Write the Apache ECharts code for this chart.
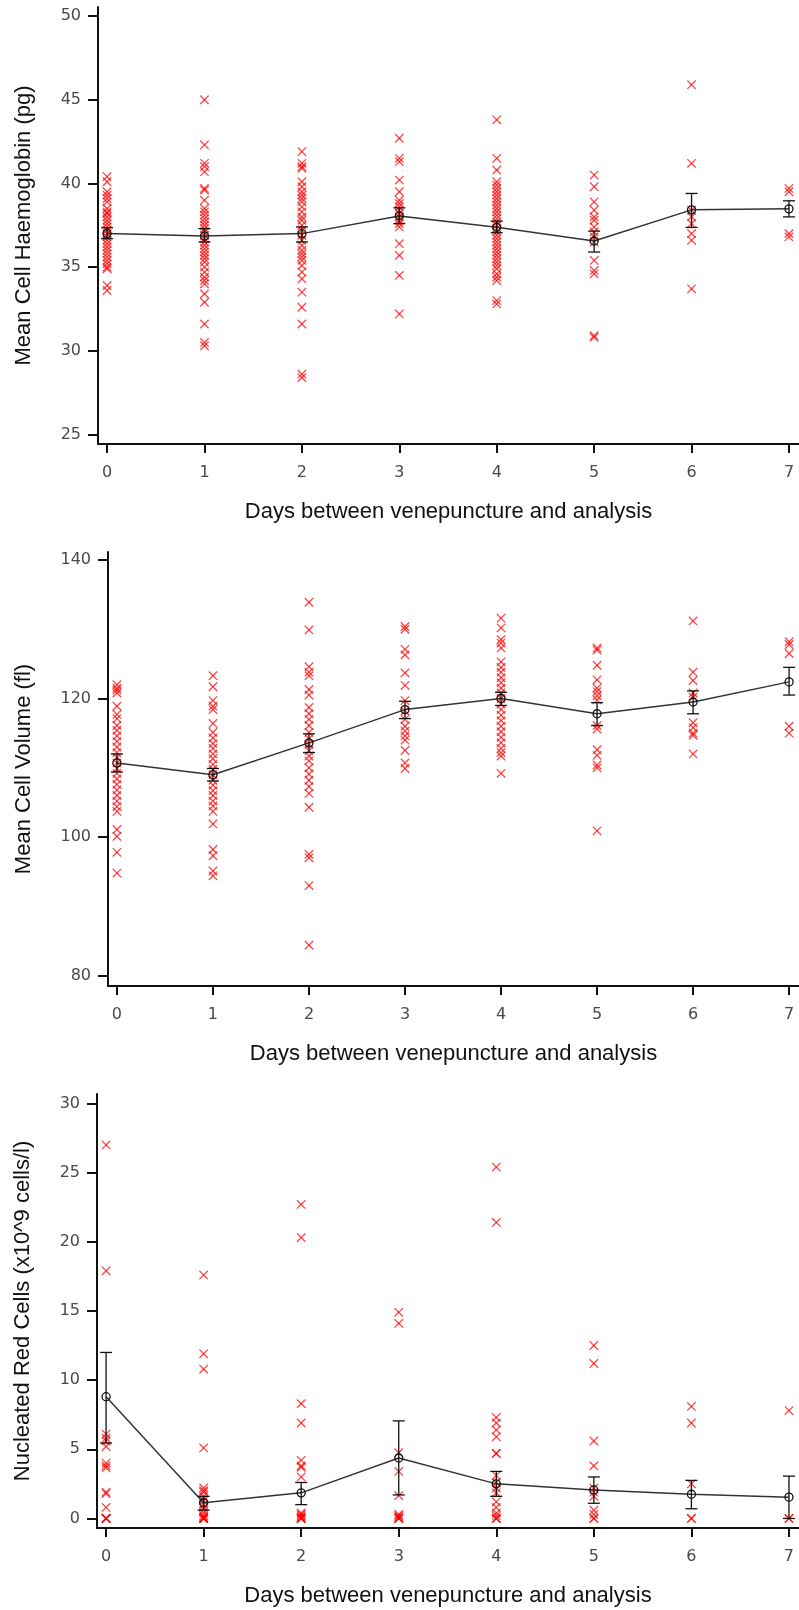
<!DOCTYPE html>
<html>
<head>
<meta charset="utf-8">
<script src="https://cdn.jsdelivr.net/npm/echarts@6/dist/echarts.min.js"></script>
<style>
html,body{margin:0;padding:0;background:#fff;}
#chart{width:799px;height:1610px;}
</style>
</head>
<body>
<div id="chart"></div>
<script>
// ---- Data ----
const days = [0, 1, 2, 3, 4, 5, 6, 7];
const dayTicks = [0, 1, 2, 3, 4, 5, 6, 7];
const xTitle = 'Days between venepuncture and analysis';

// Panel 1: Mean Cell Haemoglobin (pg)
const mchTitle = 'Mean Cell Haemoglobin (pg)';
const mchTicks = [25, 30, 35, 40, 45, 50];
const mchPoints = [
  [40.4, 40.1, 39.5, 39.3, 39.1, 38.9, 38.5, 38.3, 38.2, 38.0, 37.8, 37.6, 37.4, 37.2, 37.0, 36.8, 36.6, 36.4, 36.2, 36.0, 35.8, 35.6, 35.4, 35.2, 35.0, 34.9, 33.9, 33.6],
  [45.0, 42.3, 41.2, 41.0, 40.7, 39.7, 39.6, 39.0, 38.5, 38.3, 38.1, 37.9, 37.7, 37.5, 37.3, 37.1, 36.9, 36.7, 36.5, 36.3, 36.1, 35.9, 35.7, 35.5, 35.3, 35.0, 34.7, 34.4, 34.2, 34.0, 33.4, 32.9, 31.6, 30.5, 30.3],
  [41.9, 41.2, 41.0, 40.9, 40.1, 39.8, 39.5, 39.3, 39.1, 38.9, 38.6, 38.3, 38.0, 37.8, 37.5, 37.2, 36.9, 36.6, 36.3, 36.0, 35.8, 35.6, 35.4, 35.1, 34.7, 34.3, 33.5, 32.6, 31.6, 28.6, 28.4],
  [42.7, 41.5, 41.3, 40.2, 39.5, 39.0, 38.8, 38.6, 38.4, 38.2, 38.0, 37.8, 37.6, 37.4, 36.4, 35.7, 34.5, 32.2],
  [43.8, 41.5, 40.8, 40.1, 39.9, 39.7, 39.5, 39.3, 39.1, 38.9, 38.7, 38.5, 38.3, 38.1, 37.9, 37.7, 37.5, 37.3, 37.1, 36.9, 36.7, 36.5, 36.3, 36.1, 35.9, 35.7, 35.5, 35.3, 35.1, 34.9, 34.6, 34.4, 34.2, 33.0, 32.8],
  [40.5, 39.8, 38.9, 38.4, 38.0, 37.8, 37.4, 37.1, 36.8, 36.5, 35.4, 34.8, 34.6, 30.9, 30.8],
  [45.9, 41.2, 38.4, 38.0, 37.6, 37.0, 36.6, 33.7],
  [39.7, 39.5, 37.0, 36.8]
];
const mchMean = [37.0, 36.86, 37.0, 38.05, 37.38, 36.56, 38.42, 38.48];
const mchLow  = [36.7, 36.5, 36.5, 37.6, 37.05, 35.9, 37.37, 38.0];
const mchHigh = [37.35, 37.3, 37.4, 38.54, 37.75, 37.15, 39.4, 38.96];

// Panel 2: Mean Cell Volume (fl)
const mcvTitle = 'Mean Cell Volume (fl)';
const mcvTicks = [80, 100, 120, 140];
const mcvPoints = [
  [122.0, 121.5, 121.2, 120.8, 118.9, 117.7, 117.1, 116.1, 115.4, 114.6, 113.8, 113.0, 112.2, 111.5, 110.7, 109.9, 109.2, 108.4, 107.6, 106.8, 106.0, 105.2, 104.4, 103.7, 101.1, 100.1, 97.8, 94.8],
  [123.3, 121.7, 119.7, 118.9, 118.4, 116.4, 115.1, 114.3, 113.5, 112.8, 112.0, 111.3, 110.5, 109.8, 109.0, 108.2, 107.5, 106.7, 106.0, 105.2, 104.5, 103.7, 101.9, 98.2, 97.3, 95.1, 94.4],
  [133.9, 129.9, 124.6, 123.8, 123.3, 121.3, 120.5, 118.7, 117.8, 117.0, 116.1, 115.1, 114.2, 113.4, 112.5, 111.7, 111.0, 110.0, 109.1, 108.2, 107.3, 106.3, 104.3, 97.5, 97.0, 93.0, 84.4],
  [130.4, 130.0, 127.1, 126.3, 123.7, 121.9, 119.7, 118.2, 117.0, 116.0, 115.3, 114.6, 114.0, 112.5, 110.7, 109.9],
  [131.6, 130.2, 128.5, 128.0, 127.3, 125.3, 124.5, 123.8, 123.0, 122.3, 121.5, 120.8, 120.0, 119.2, 118.4, 117.6, 116.8, 116.0, 115.2, 114.4, 113.6, 112.8, 112.2, 111.7, 109.2],
  [127.3, 127.0, 124.8, 122.7, 121.5, 121.0, 120.4, 119.8, 116.1, 115.6, 112.6, 111.8, 110.4, 110.0, 100.9],
  [131.2, 123.8, 122.6, 120.8, 120.2, 116.5, 115.8, 115.0, 114.7, 112.0],
  [128.2, 127.8, 126.5, 116.0, 115.0]
];
const mcvMean = [110.7, 109.0, 113.6, 118.4, 120.0, 117.8, 119.5, 122.4];
const mcvLow  = [109.4, 108.1, 112.2, 117.1, 119.0, 116.1, 117.8, 120.5];
const mcvHigh = [112.0, 109.9, 114.9, 119.6, 120.9, 119.4, 121.1, 124.5];

// Panel 3: Nucleated Red Cells (x10^9 cells/l)
const nrbcTitle = 'Nucleated Red Cells (x10^9 cells/l)';
const nrbcTicks = [0, 5, 10, 15, 20, 25, 30];
const nrbcPoints = [
  [27.0, 17.9, 6.1, 5.8, 5.6, 5.2, 4.0, 3.8, 3.65, 1.9, 1.8, 0.8, 0, 0, 0, 0, 0],
  [17.6, 11.9, 10.8, 5.1, 2.2, 2.0, 1.9, 1.6, 1.3, 1.0, 0.8, 0.6, 0.4, 0.2, 0.1, 0, 0, 0, 0, 0],
  [22.7, 20.3, 8.3, 6.9, 4.2, 3.8, 3.7, 3.0, 0.4, 0.3, 0.2, 0.1, 0, 0, 0, 0],
  [14.9, 14.1, 4.75, 3.4, 1.65, 0.3, 0.2, 0.1, 0, 0, 0],
  [25.4, 21.4, 7.3, 6.9, 6.4, 5.9, 4.7, 4.7, 3.1, 2.6, 2.2, 1.85, 1.2, 0.8, 0.4, 0.2, 0, 0, 0],
  [12.5, 11.2, 5.6, 3.8, 2.2, 1.9, 1.6, 0.6, 0.3, 0, 0],
  [8.1, 6.9, 2.5, 0, 0],
  [7.8, 0, 0]
];
const nrbcMean = [8.8, 1.13, 1.85, 4.37, 2.5, 2.06, 1.75, 1.54];
const nrbcLow  = [5.45, 0.6, 1.0, 1.7, 1.6, 1.1, 0.7, 0.0];
const nrbcHigh = [12.0, 1.6, 2.6, 7.05, 3.4, 3.0, 2.75, 3.06];

// ---- Build ----
const FONT = "'Liberation Sans', Arial, Helvetica, sans-serif";
const TICKFONT = "'DejaVu Sans', Verdana, sans-serif";
const panels = [
  {title: mchTitle, ticks: mchTicks, pts: mchPoints, mean: mchMean, lo: mchLow, hi: mchHigh,
   grid: {left: 98, top: 7, height: 437}, ymin: 24.43, ymax: 50.54, yGap: 74},
  {title: mcvTitle, ticks: mcvTicks, pts: mcvPoints, mean: mcvMean, lo: mcvLow, hi: mcvHigh,
   grid: {left: 108, top: 552, height: 434}, ymin: 78.5, ymax: 141.15, yGap: 84},
  {title: nrbcTitle, ticks: nrbcTicks, pts: nrbcPoints, mean: nrbcMean, lo: nrbcLow, hi: nrbcHigh,
   grid: {left: 97, top: 1094, height: 434}, ymin: -0.69, ymax: 30.68, yGap: 74}
];

const grids = [], xAxes = [], yAxes = [], series = [];
const axisLineStyle = {color: '#111', width: 2};

panels.forEach((p, k) => {
  grids.push({left: p.grid.left, right: 0, top: p.grid.top, height: p.grid.height, containLabel: false});
  xAxes.push({
    type: 'value', gridIndex: k, min: -0.093, max: 7.103,
    name: xTitle, nameLocation: 'middle', nameGap: 68,
    nameTextStyle: {fontFamily: FONT, fontSize: 22, color: '#111', verticalAlign: 'middle'},
    axisLine: {show: true, onZero: false, lineStyle: axisLineStyle},
    axisTick: {show: true, inside: false, length: 9, lineStyle: {color: '#111', width: 2}, customValues: dayTicks},
    axisLabel: {show: true, margin: 21, fontFamily: TICKFONT, fontSize: 16, color: '#4a4a4a', customValues: dayTicks},
    splitLine: {show: false}
  });
  yAxes.push({
    type: 'value', gridIndex: k, min: p.ymin, max: p.ymax,
    name: p.title, nameLocation: 'middle', nameGap: p.yGap, nameRotate: 90,
    nameTextStyle: {fontFamily: FONT, fontSize: 22, color: '#111', verticalAlign: 'middle'},
    axisLine: {show: true, onZero: false, lineStyle: axisLineStyle},
    axisTick: {show: true, inside: false, length: 10, lineStyle: {color: '#111', width: 2}, customValues: p.ticks},
    axisLabel: {show: true, margin: 17, fontFamily: TICKFONT, fontSize: 16, color: '#4a4a4a', customValues: p.ticks},
    splitLine: {show: false}
  });

  const scatterData = [];
  days.forEach((d, i) => p.pts[i].forEach(v => scatterData.push([d, v])));
  series.push({
    type: 'custom', xAxisIndex: k, yAxisIndex: k, data: scatterData, z: 2,
    encode: {x: 0, y: 1},
    renderItem: function (params, api) {
      const c = api.coord([api.value(0), api.value(1)]);
      const s = 4.2;
      const st = {stroke: 'rgba(255,0,0,0.72)', lineWidth: 1.3};
      return {type: 'group', children: [
        {type: 'line', shape: {x1: c[0] - s, y1: c[1] - s, x2: c[0] + s, y2: c[1] + s}, style: st},
        {type: 'line', shape: {x1: c[0] - s, y1: c[1] + s, x2: c[0] + s, y2: c[1] - s}, style: st}
      ]};
    }
  });
  series.push({
    type: 'line', xAxisIndex: k, yAxisIndex: k, z: 4,
    data: days.map((d, i) => [d, p.mean[i]]),
    symbol: 'circle', symbolSize: 8, showSymbol: true,
    lineStyle: {color: '#333', width: 1.5},
    itemStyle: {color: 'rgba(0,0,0,0)', borderColor: '#111', borderWidth: 1.3},
    emphasis: {disabled: true}, animation: false
  });
  series.push({
    type: 'custom', xAxisIndex: k, yAxisIndex: k, z: 5,
    data: days.map((d, i) => [d, p.lo[i], p.hi[i]]),
    encode: {x: 0, y: [1, 2]},
    renderItem: function (params, api) {
      const a = api.coord([api.value(0), api.value(2)]);
      const b = api.coord([api.value(0), api.value(1)]);
      const w = 6;
      const st = {stroke: '#111', lineWidth: 1.3};
      return {type: 'group', children: [
        {type: 'line', shape: {x1: a[0], y1: a[1], x2: b[0], y2: b[1]}, style: st},
        {type: 'line', shape: {x1: a[0] - w, y1: a[1], x2: a[0] + w, y2: a[1]}, style: st},
        {type: 'line', shape: {x1: b[0] - w, y1: b[1], x2: b[0] + w, y2: b[1]}, style: st}
      ]};
    }
  });
});

const chart = echarts.init(document.getElementById('chart'), null, {renderer: 'canvas'});
chart.setOption({
  animation: false,
  backgroundColor: '#fff',
  grid: grids, xAxis: xAxes, yAxis: yAxes, series: series
});
</script>
</body>
</html>
